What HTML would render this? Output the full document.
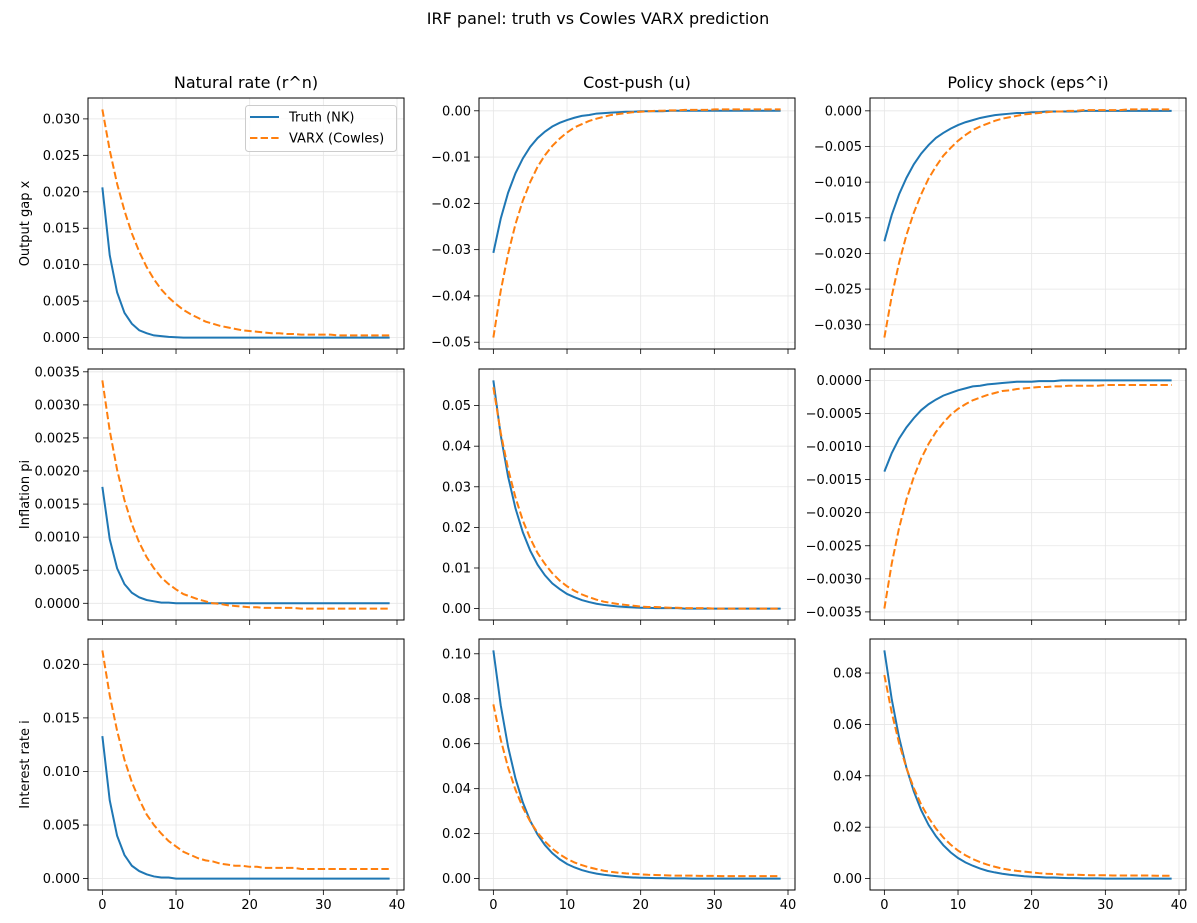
<!DOCTYPE html>
<html><head><meta charset="utf-8">
<style>
body{margin:0;background:#fff;}
svg{display:block;font-family:"DejaVu Sans","Liberation Sans",sans-serif;}
</style></head>
<body>
<svg id="fig" width="1197" height="923" viewBox="0 0 1197 923" xmlns="http://www.w3.org/2000/svg">
<rect width="1197" height="923" fill="#fff"/>
<text x="598" y="24" text-anchor="middle" font-size="16">IRF panel: truth vs Cowles VARX prediction</text>
</svg>
<script>
const xValues=[0,1,2,3,4,5,6,7,8,9,10,11,12,13,14,15,16,17,18,19,20,21,22,23,24,25,26,27,28,29,30,31,32,33,34,35,36,37,38,39];
const colTitles=["Natural rate (r^n)","Cost-push (u)","Policy shock (eps^i)"];
const rowLabels=["Output gap x","Inflation pi","Interest rate i"];
const xTicks=[0,10,20,30,40];

const truth00=[.0206,.0113,.0062,.0034,.0019,.0010,.0006,.0003,.0002,.0001,.00005,0,0,0,0,0,0,0,0,0,0,0,0,0,0,0,0,0,0,0,0,0,0,0,0,0,0,0,0,0];
const varx00=[.0313,.0257,.0211,.0174,.0143,.0118,.0097,.0080,.0066,.0055,.0046,.0038,.0032,.0027,.0022,.0019,.0016,.0014,.0012,.0010,.0009,.0008,.0007,.0006,.0006,.0005,.0005,.0004,.0004,.0004,.0004,.0004,.0003,.0003,.0003,.0003,.0003,.0003,.0003,.0003];
const truth01=[-.0307,-.0233,-.0177,-.0135,-.0103,-.0078,-.0059,-.0045,-.0034,-.0026,-.0020,-.0015,-.0011,-.0009,-.0006,-.0005,-.0004,-.0003,-.0002,-.0002,-.0001,-.0001,-.0001,-.0001,0,0,0,0,0,0,0,0,0,0,0,0,0,0,0,0];
const varx01=[-.0490,-.0389,-.0309,-.0245,-.0194,-.0154,-.0121,-.0096,-.0076,-.0060,-.0047,-.0036,-.0029,-.0022,-.0017,-.0013,-.0009,-.0007,-.0005,-.0003,-.0002,-.0001,0,0,.0001,.0001,.0002,.0002,.0002,.0002,.0003,.0003,.0003,.0003,.0003,.0003,.0003,.0003,.0003,.0003];
const truth02=[-.0183,-.0146,-.0117,-.0094,-.0075,-.0060,-.0048,-.0038,-.0031,-.0025,-.0020,-.0016,-.0013,-.0010,-.0008,-.0006,-.0005,-.0004,-.0003,-.0003,-.0002,-.0002,-.0001,-.0001,-.0001,-.0001,-.0001,0,0,0,0,0,0,0,0,0,0,0,0,0];
const varx02=[-.0318,-.0260,-.0213,-.0174,-.0143,-.0117,-.0095,-.0078,-.0063,-.0052,-.0042,-.0034,-.0027,-.0022,-.0018,-.0014,-.0011,-.0009,-.0007,-.0005,-.0004,-.0003,-.0002,-.0001,-.0001,0,0,.0001,.0001,.0001,.0001,.0001,.0001,.0002,.0002,.0002,.0002,.0002,.0002,.0002];
const truth10=[.00176,.00097,.00053,.00029,.00016,.00009,.00005,.00003,.00001,.00001,0,0,0,0,0,0,0,0,0,0,0,0,0,0,0,0,0,0,0,0,0,0,0,0,0,0,0,0,0,0];
const varx10=[.00337,.00261,.00202,.00156,.00120,.00092,.00070,.00053,.00039,.00029,.00021,.00014,.00010,.00006,.00003,0,-.00001,-.00003,-.00004,-.00005,-.00006,-.00006,-.00007,-.00007,-.00007,-.00007,-.00007,-.00008,-.00008,-.00008,-.00008,-.00008,-.00008,-.00008,-.00008,-.00008,-.00008,-.00008,-.00008,-.00008];
const truth11=[.0562,.0427,.0325,.0247,.0188,.0143,.0108,.0082,.0062,.0048,.0036,.0028,.0021,.0016,.0012,.0009,.0007,.0005,.0004,.0003,.0002,.0002,.0001,.0001,.0001,.0001,0,0,0,0,0,0,0,0,0,0,0,0,0,0];
const varx11=[.0545,.0433,.0344,.0274,.0217,.0173,.0137,.0110,.0087,.0069,.0055,.0044,.0035,.0028,.0022,.0017,.0014,.0011,.0009,.0007,.0005,.0004,.0004,.0003,.0002,.0002,.0001,.0001,.0001,.0001,0,0,0,0,0,0,0,0,0,0];
const truth12=[-.00138,-.00110,-.00088,-.00071,-.00057,-.00045,-.00036,-.00029,-.00023,-.00019,-.00015,-.00012,-.00009,-.00008,-.00006,-.00005,-.00004,-.00003,-.00002,-.00002,-.00002,-.00001,-.00001,-.00001,0,0,0,0,0,0,0,0,0,0,0,0,0,0,0,0];
const varx12=[-.00345,-.00277,-.00223,-.00180,-.00146,-.00118,-.00096,-.00078,-.00064,-.00052,-.00043,-.00036,-.00030,-.00026,-.00022,-.00019,-.00016,-.00015,-.00013,-.00012,-.00011,-.00010,-.00010,-.00009,-.00009,-.00008,-.00008,-.00008,-.00008,-.00008,-.00007,-.00007,-.00007,-.00007,-.00007,-.00007,-.00007,-.00007,-.00007,-.00007];
const truth20=[.0133,.0073,.0040,.0022,.0012,.0007,.0004,.0002,.0001,.0001,0,0,0,0,0,0,0,0,0,0,0,0,0,0,0,0,0,0,0,0,0,0,0,0,0,0,0,0,0,0];
const varx20=[.0213,.0171,.0138,.0111,.0090,.0074,.0060,.0050,.0042,.0035,.0030,.0025,.0022,.0019,.0017,.0016,.0014,.0013,.0012,.0012,.0011,.0011,.0010,.0010,.0010,.0010,.0010,.0009,.0009,.0009,.0009,.0009,.0009,.0009,.0009,.0009,.0009,.0009,.0009,.0009];
const truth21=[.1015,.0771,.0586,.0446,.0339,.0257,.0196,.0149,.0113,.0086,.0065,.0050,.0038,.0029,.0022,.0017,.0013,.0010,.0007,.0005,.0004,.0003,.0002,.0002,.0001,.0001,.0001,0,0,0,0,0,0,0,0,0,0,0,0,0];
const varx21=[.0775,.0618,.0494,.0395,.0316,.0254,.0204,.0165,.0133,.0108,.0088,.0072,.0060,.0050,.0042,.0035,.0030,.0026,.0023,.0021,.0019,.0017,.0016,.0015,.0014,.0013,.0013,.0013,.0012,.0012,.0012,.0011,.0011,.0011,.0011,.0011,.0011,.0011,.0011,.0011];
const truth22=[.0888,.0698,.0549,.0431,.0339,.0266,.0209,.0165,.0130,.0102,.0080,.0063,.0050,.0039,.0030,.0024,.0019,.0015,.0012,.0009,.0007,.0006,.0004,.0004,.0003,.0002,.0002,.0001,.0001,.0001,0,0,0,0,0,0,0,0,0,0];
const varx22=[.0792,.0646,.0527,.0430,.0352,.0288,.0237,.0195,.0160,.0132,.0109,.0091,.0076,.0064,.0054,.0046,.0039,.0034,.0030,.0027,.0024,.0021,.0019,.0018,.0016,.0015,.0015,.0014,.0013,.0013,.0013,.0012,.0012,.0012,.0012,.0012,.0012,.0011,.0011,.0011];

const yTicks00=[0,.005,.01,.015,.02,.025,.03];
const yTicks01=[-.05,-.04,-.03,-.02,-.01,0];
const yTicks02=[-.03,-.025,-.02,-.015,-.01,-.005,0];
const yTicks10=[0,.0005,.001,.0015,.002,.0025,.003,.0035];
const yTicks11=[0,.01,.02,.03,.04,.05];
const yTicks12=[-.0035,-.003,-.0025,-.002,-.0015,-.001,-.0005,0];
const yTicks20=[0,.005,.01,.015,.02];
const yTicks21=[0,.02,.04,.06,.08,.1];
const yTicks22=[0,.02,.04,.06,.08];

const panels=[
 [[truth00,varx00,yTicks00,3],[truth01,varx01,yTicks01,2],[truth02,varx02,yTicks02,3]],
 [[truth10,varx10,yTicks10,4],[truth11,varx11,yTicks11,2],[truth12,varx12,yTicks12,4]],
 [[truth20,varx20,yTicks20,3],[truth21,varx21,yTicks21,2],[truth22,varx22,yTicks22,2]]
];
const NS="http://www.w3.org/2000/svg";
const svg=document.getElementById('fig');
function mk(tag,attrs,parent){const e=document.createElementNS(NS,tag);for(const k in attrs)e.setAttribute(k,attrs[k]);(parent||svg).appendChild(e);return e;}
const lefts=[88,479,870], tops=[98,369,639], W=316, H=251;
const xmin=-1.95,xmax=40.95;
function fmt(v,d){let s=Math.abs(v).toFixed(d);return (v<-1e-12?"\u2212":"")+s;}
for(let r=0;r<3;r++)for(let c=0;c<3;c++){
 const [tr,va,yt,dec]=panels[r][c];
 const L=lefts[c],T=tops[r];
 const all=tr.concat(va);let mn=Math.min(...all),mx=Math.max(...all);const pad=(mx-mn)*0.05;const ymin=mn-pad,ymax=mx+pad;
 const sx=v=>L+(v-xmin)/(xmax-xmin)*W;
 const sy=v=>T+H-(v-ymin)/(ymax-ymin)*H;
 const g=mk('g',{});
 
 
 xTicks.forEach(t=>{const x=sx(t);
  const gl=mk('line',{x1:x,x2:x,y1:T,y2:T+H,stroke:'#e6e6e6','stroke-width':0.8},g);
  
  
  mk('line',{x1:x,x2:x,y1:T+H,y2:T+H+5,stroke:'#000','stroke-width':0.8},g);
  if(r==2){const tl=mk('text',{x:x,y:T+H+19,'text-anchor':'middle','font-size':13},g);tl.textContent=t;
   
   }
 });
 yt.forEach(t=>{const y=sy(t);
  const gl=mk('line',{x1:L,x2:L+W,y1:y,y2:y,stroke:'#e6e6e6','stroke-width':0.8},g);
  
  
  mk('line',{x1:L-5,x2:L,y1:y,y2:y,stroke:'#000','stroke-width':0.8},g);
  const tl=mk('text',{x:L-8,y:y+4.5,'text-anchor':'end','font-size':13},g);tl.textContent=fmt(t,dec);
  
  
 });
 const pt=s=>s.map((v,i)=>sx(xValues[i]).toFixed(2)+','+sy(v).toFixed(2)).join(' ');
 const l1=mk('polyline',{points:pt(tr),fill:'none',stroke:'#1f77b4','stroke-width':2},g);
 
 
 const l2=mk('polyline',{points:pt(va),fill:'none',stroke:'#ff7f0e','stroke-width':2,'stroke-dasharray':'7.4,3.2'},g);
 
 
 mk('rect',{x:L,y:T,width:W,height:H,fill:'none',stroke:'#000','stroke-width':1},g);
 if(r==0){const ti=mk('text',{x:L+W/2,y:T-10,'text-anchor':'middle','font-size':16},g);ti.textContent=colTitles[c];
  
  }
 if(c==0){const yl=mk('text',{x:0,y:0,'text-anchor':'middle','font-size':13,transform:`translate(29,${T+H/2}) rotate(-90)`},g);yl.textContent=rowLabels[r];
  
  }
}
// legend
const lg=mk('g',{});


mk('rect',{x:245.5,y:105.5,width:151,height:46,rx:3,fill:'#fff','fill-opacity':0.8,stroke:'#ccc','stroke-width':1},lg);
mk('line',{x1:250,x2:279,y1:117,y2:117,stroke:'#1f77b4','stroke-width':2},lg);
mk('line',{x1:250,x2:279,y1:138,y2:138,stroke:'#ff7f0e','stroke-width':2,'stroke-dasharray':'7.4,3.2'},lg);
const e1=mk('text',{x:289,y:121.5,'font-size':13},lg);e1.textContent='Truth (NK)';


const e2=mk('text',{x:289,y:142.5,'font-size':13},lg);e2.textContent='VARX (Cowles)';


</script>
</body></html>
